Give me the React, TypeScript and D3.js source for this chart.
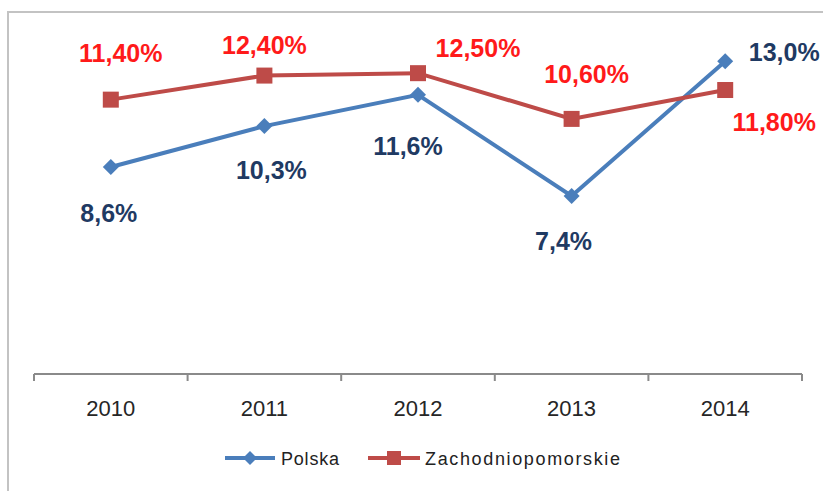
import React from "react";
import * as d3 from "d3";

const years = ["2010", "2011", "2012", "2013", "2014"];
const polska = [8.6, 10.3, 11.6, 7.4, 13.0];
const zachodniopomorskie = [11.4, 12.4, 12.5, 10.6, 11.8];
const polskaLabels = ["8,6%", "10,3%", "11,6%", "7,4%", "13,0%"];
const zachLabels = ["11,40%", "12,40%", "12,50%", "10,60%", "11,80%"];

// label placement relative to the point (dx, baseline dy)
const polskaOffsets = [[-2, 55], [7, 53], [-10, 60], [-8, 54], [59, 0]];
const zachOffsets = [[10, -38], [0, -22], [60, -16], [15, -36], [49, 41]];

const W = 823;
const H = 491;
const BLUE = "#4A7EBB";
const RED = "#BE4B48";

export default function App() {
  const x = d3.scalePoint<string>().domain(years).range([34, 802]).padding(0.5);
  const band = d3.scaleBand<string>().domain(years).range([34, 802]);
  const y = d3.scaleLinear().domain([0, 15]).range([374, 13]);

  const line = d3
    .line<number>()
    .x((d, i) => x(years[i]) as number)
    .y((d) => y(d));

  const ticks = [...years.map((yr) => band(yr) as number), 802];
  const font = "'Liberation Sans', Arial, sans-serif";

  return (
    <svg
      width={W}
      height={H}
      style={{ position: "absolute", left: 0, top: 0, background: "#fff" }}
      fontFamily={font}
    >
      {/* chart frame */}
      <path d={`M8,${H} L8,12 L${W},12`} fill="none" stroke="#c3c3c3" strokeWidth={2} />

      {/* x axis */}
      <line x1={34} x2={802} y1={y(0)} y2={y(0)} stroke="#8a8a8a" strokeWidth={2} />
      {ticks.map((t, i) => (
        <line key={i} x1={t} x2={t} y1={y(0)} y2={y(0) + 7} stroke="#8a8a8a" strokeWidth={2} />
      ))}
      {years.map((yr) => (
        <text key={yr} x={x(yr)} y={416} textAnchor="middle" fontSize={22} fill="#262626">
          {yr}
        </text>
      ))}

      {/* series lines */}
      <path d={line(polska) ?? ""} fill="none" stroke={BLUE} strokeWidth={4} />
      <path d={line(zachodniopomorskie) ?? ""} fill="none" stroke={RED} strokeWidth={4} />

      {/* markers */}
      {polska.map((v, i) => {
        const cx = x(years[i]) as number;
        const cy = y(v);
        return (
          <path
            key={"p" + i}
            d={`M${cx},${cy - 8} L${cx + 8},${cy} L${cx},${cy + 8} L${cx - 8},${cy} Z`}
            fill={BLUE}
          />
        );
      })}
      {zachodniopomorskie.map((v, i) => (
        <rect
          key={"z" + i}
          x={(x(years[i]) as number) - 8}
          y={y(v) - 8}
          width={16}
          height={16}
          fill={RED}
        />
      ))}

      {/* data labels */}
      {polska.map((v, i) => (
        <text
          key={"pl" + i}
          x={(x(years[i]) as number) + polskaOffsets[i][0]}
          y={y(v) + polskaOffsets[i][1]}
          textAnchor="middle"
          fontSize={25}
          fontWeight="bold"
          fill="#1F3A63"
        >
          {polskaLabels[i]}
        </text>
      ))}
      {zachodniopomorskie.map((v, i) => (
        <text
          key={"zl" + i}
          x={(x(years[i]) as number) + zachOffsets[i][0]}
          y={y(v) + zachOffsets[i][1]}
          textAnchor="middle"
          fontSize={25}
          fontWeight="bold"
          fill="#FF1A1A"
        >
          {zachLabels[i]}
        </text>
      ))}

      {/* legend */}
      <g>
        <line x1={225} x2={275} y1={458} y2={458} stroke={BLUE} strokeWidth={4} />
        <path d="M250,451 L257,458 L250,465 L243,458 Z" fill={BLUE} />
        <text x={281} y={465} fontSize={18} fill="#222" textLength={58}>
          Polska
        </text>
        <line x1={368} x2={420} y1={458} y2={458} stroke={RED} strokeWidth={4} />
        <rect x={387} y={451} width={14} height={14} fill={RED} />
        <text x={425} y={465} fontSize={18} fill="#222" textLength={195}>
          Zachodniopomorskie
        </text>
      </g>
    </svg>
  );
}
